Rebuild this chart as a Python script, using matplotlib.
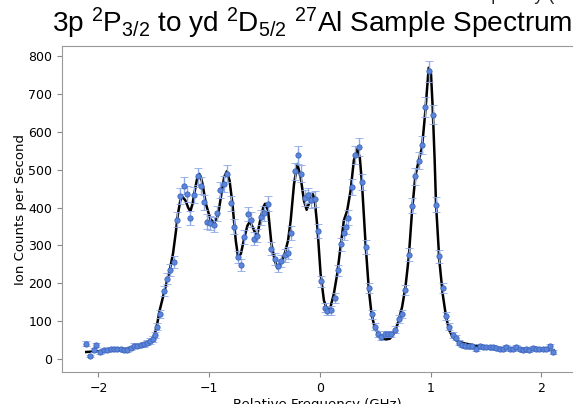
import numpy as np
import matplotlib
matplotlib.use("Agg")
import matplotlib.pyplot as plt

freq = [-2.108, -2.078, -2.04, -2.02, -1.99, -1.95, -1.92, -1.89, -1.86, -1.83,
        -1.80, -1.77, -1.74, -1.71, -1.68, -1.65, -1.62, -1.59, -1.56, -1.535,
        -1.51, -1.49, -1.47, -1.44, -1.41, -1.38, -1.35, -1.32, -1.29, -1.26,
        -1.23, -1.20, -1.17, -1.135, -1.105, -1.075, -1.05, -1.02, -0.99, -0.96,
        -0.93, -0.90, -0.87, -0.84, -0.805, -0.775, -0.744, -0.714, -0.685, -0.654,
        -0.624, -0.595, -0.564, -0.534, -0.504, -0.468, -0.438, -0.408, -0.378, -0.348,
        -0.318, -0.288, -0.258, -0.228, -0.198, -0.168, -0.138, -0.108, -0.077, -0.048,
        -0.018, 0.013, 0.042, 0.067, 0.096, 0.132, 0.162, 0.193, 0.216, 0.232,
        0.256, 0.286, 0.315, 0.351, 0.382, 0.412, 0.442, 0.466, 0.493, 0.523,
        0.553, 0.583, 0.613, 0.643, 0.682, 0.712, 0.742, 0.772, 0.802, 0.832,
        0.862, 0.892, 0.922, 0.952, 0.982, 1.018, 1.048, 1.078, 1.108, 1.139,
        1.168, 1.198, 1.229, 1.252, 1.283, 1.313, 1.343, 1.373, 1.412, 1.441,
        1.472, 1.502, 1.532, 1.562, 1.592, 1.622, 1.652, 1.682, 1.712, 1.742,
        1.772, 1.802, 1.832, 1.862, 1.892, 1.922, 1.952, 1.982, 2.012, 2.042,
        2.078, 2.108]
counts = [41, 8, 25, 37, 18, 24, 25, 26, 26, 26,
          26, 25, 24, 29, 36, 36, 37, 39, 43, 48,
          54, 63, 85, 120, 180, 212, 236, 256, 368, 431,
          458, 436, 372, 434, 482, 458, 414, 363, 359, 355,
          385, 445, 462, 489, 411, 350, 269, 249, 322, 383,
          368, 318, 326, 374, 385, 410, 291, 265, 247, 259,
          274, 280, 332, 496, 539, 489, 425, 432, 420, 423,
          339, 206, 136, 127, 129, 161, 234, 303, 334, 348,
          373, 454, 539, 560, 467, 296, 187, 118, 85, 66,
          59, 66, 66, 66, 78, 107, 120, 183, 276, 405,
          482, 524, 564, 665, 759, 645, 408, 271, 188, 115,
          86, 64, 57, 43, 37, 35, 34, 34, 28, 34,
          32, 32, 32, 31, 30, 26, 28, 32, 26, 28,
          32, 28, 24, 26, 24, 30, 28, 26, 26, 26,
          34, 19]

# fitted line shape
fit_freq = [-2.11, -2.0, -1.9, -1.8, -1.72, -1.66, -1.61, -1.57, -1.54, -1.51,
            -1.49, -1.47, -1.447, -1.417, -1.387, -1.357, -1.327, -1.303, -1.282, -1.261,
            -1.243, -1.213, -1.19, -1.17, -1.15, -1.135, -1.11, -1.09, -1.075, -1.06,
            -1.03, -0.99, -0.955, -0.92, -0.89, -0.865, -0.84, -0.816, -0.79, -0.76,
            -0.739, -0.714, -0.678, -0.655, -0.633, -0.60, -0.57, -0.534, -0.51, -0.495,
            -0.468, -0.438, -0.408, -0.384, -0.354, -0.318, -0.288, -0.264, -0.234, -0.204,
            -0.174, -0.144, -0.12, -0.09, -0.066, -0.048, -0.023, 0.006, 0.036, 0.066,
            0.096, 0.126, 0.156, 0.186, 0.216, 0.246, 0.277, 0.306, 0.337, 0.36,
            0.38, 0.412, 0.442, 0.466, 0.493, 0.523, 0.562, 0.592, 0.631, 0.667,
            0.703, 0.742, 0.772, 0.802, 0.832, 0.862, 0.892, 0.922, 0.952, 0.982,
            1.003, 1.018, 1.036, 1.048, 1.078, 1.108, 1.139, 1.168, 1.198, 1.229,
            1.3, 1.4, 1.5, 1.6, 1.7, 1.8, 1.9, 2.0, 2.11]
fit_counts = [19, 21, 24, 26, 28, 32, 36, 41, 46, 55,
              68, 92, 129, 164, 199, 234, 278, 331, 383, 418,
              429, 418, 400, 390, 410, 436, 475, 489, 480, 462,
              410, 370, 359, 379, 436, 480, 496, 471, 410, 313,
              269, 278, 326, 352, 363, 344, 322, 374, 402, 410,
              392, 304, 260, 240, 252, 278, 313, 366, 462, 515,
              480, 418, 394, 418, 436, 423, 348, 225, 155, 129,
              138, 173, 225, 296, 366, 392, 445, 524, 554, 532,
              462, 304, 182, 119, 85, 69, 54, 52, 54, 68,
              94, 138, 190, 269, 392, 484, 524, 559, 655, 769,
              752, 664, 524, 410, 261, 173, 111, 76, 59, 50,
              42, 36, 32, 30, 28, 27, 26, 25, 24]

# shot-noise error bars
errors = np.sqrt(counts)

plt.rcParams['mathtext.fontset'] = 'custom'
plt.rcParams['mathtext.rm'] = 'Liberation Sans'
plt.rcParams['mathtext.it'] = 'Liberation Sans:italic'

fig = plt.figure(figsize=(5.73, 4.04), dpi=100)
ax = fig.add_axes([0.108, 0.079, 0.892, 0.807])

ax.errorbar(freq, counts, yerr=errors, fmt='o', ms=3.8, color='#5b84dc',
            mec='#3d64b8', mew=0.6, ecolor='#8eaaea', elinewidth=1.0,
            capsize=3, capthick=1.0, zorder=3)
ax.plot(fit_freq, fit_counts, color='black', linewidth=1.8, zorder=2)

ax.set_xlim(-2.33, 2.285)
ax.set_ylim(-34, 826)
ax.set_xticks([-2, -1, 0, 1, 2])
ax.set_yticks([0, 100, 200, 300, 400, 500, 600, 700, 800])
ax.tick_params(labelsize=9, color='#888888', length=3.5)
for side in ['left', 'bottom', 'top']:
    ax.spines[side].set_color('#999999')
ax.spines['right'].set_visible(False)

ax.set_xlabel('Relative Frequency (GHz)', fontsize=9.5, labelpad=2)
ax.set_ylabel('Ion Counts per Second', fontsize=9.5, labelpad=1)

fig.text(0.545, 0.921,
         r'3p $\mathregular{^2P_{3/2}}$ to yd $\mathregular{^2D_{5/2}}$ $\mathregular{^{27}}$Al Sample Spectrum',
         ha='center', va='baseline', fontsize=20.2, family='Liberation Sans')
# clipped label from the panel above
fig.text(0.678, 1.0, 'Relative Frequency (GHz)', ha='left', va='baseline',
         fontsize=13, family='Liberation Sans', color='#222222')

fig.savefig('out.png', dpi=100)
